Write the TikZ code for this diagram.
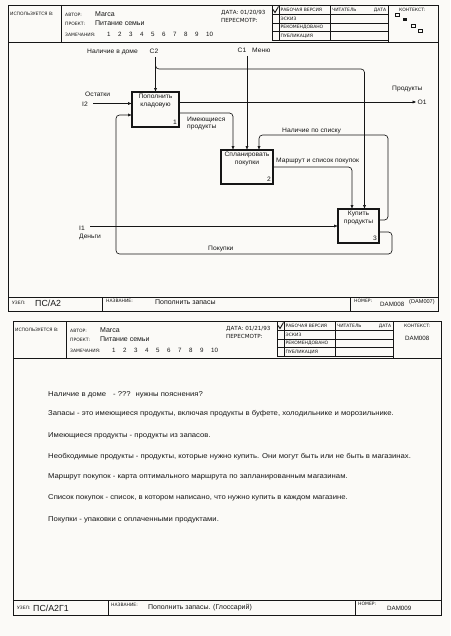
\documentclass[tikz,border=0pt]{standalone}
\usepackage{fontspec}
\setmainfont{Liberation Sans}
\newfontfamily\hdrfont{DejaVu Sans}
\newfontfamily\glfont[FakeStretch=1.1]{Liberation Sans}
\newfontfamily\labfont[FakeStretch=1.05]{Liberation Sans}
\usetikzlibrary{arrows.meta}
\definecolor{paper}{RGB}{251,250,247}
\definecolor{ink}{RGB}{22,22,22}
\tikzset{
  frame/.style={line width=0.9pt},
  thinl/.style={line width=0.6pt},
  fnbox/.style={draw, line width=1.1pt, inner sep=0, minimum width=#1},
  arr/.style={line width=0.65pt, -{Triangle[length=3.4pt,width=2.8pt]}, rounded corners=3.5pt},
  lab/.style={font=\labfont\fontsize{6.4}{7.8}\selectfont, inner sep=0},
  tiny/.style={font=\hdrfont\fontsize{4.5}{5}\selectfont, inner sep=0, anchor=west},
  dat/.style={font=\hdrfont\fontsize{5.6}{6}\selectfont, inner sep=0, anchor=west},
  val/.style={font=\fontsize{7}{8}\selectfont, inner sep=0, anchor=west},
  num/.style={font=\fontsize{6.2}{7}\selectfont, inner sep=0, anchor=west},
  big/.style={font=\fontsize{8.8}{10}\selectfont, inner sep=0, anchor=west},
  gl/.style={font=\glfont\fontsize{7}{8}\selectfont, inner sep=0, anchor=west},
}
% #1 prefix, #2 origin, #3 width, #4 date
\newcommand\idefhead[4]{%
  \begin{scope}[shift={#2}]
    \draw[frame] (0,37) -- (#3,37);
    \draw[frame] (53,0) -- (53,37);
    \node[tiny] (#1use) at (2,9) {ИСПОЛЬЗУЕТСЯ В:};
    \node[tiny] (#1aut) at (57,9.5) {АВТОР:};
    \node[val] (#1autv) at (87,9.5) {Marca};
    \node[tiny] (#1prj) at (57,18.5) {ПРОЕКТ:};
    \node[val] (#1prjv) at (87,18.5) {Питание семьи};
    \node[tiny] (#1rem) at (57,29.5) {ЗАМЕЧАНИЯ:};
    \foreach \k in {1,...,9} \node[num] (#1n\k) at ({99+11*(\k-1)},29.5) {\k};
    \node[num] (#1n10) at (198,29.5) {10};
    \node[dat] (#1date) at (213,7.5) {ДАТА: #4};
    \node[dat] (#1rev) at (213,15) {ПЕРЕСМОТР:};
    \draw[thinl] (264,0) -- (264,35) (271,0) -- (271,35) (322,0) -- (322,35);
    \draw[frame] (380,0) -- (380,37);
    \draw[thinl] (264,9.5) -- (380,9.5) (264,18) -- (380,18) (264,26.5) -- (380,26.5) (264,35) -- (380,35);
    \draw[line width=0.9pt] (265,4.5) -- (267,7.5) -- (270.5,1.5);
    \node[tiny] (#1r1) at (272.5,5) {РАБОЧАЯ ВЕРСИЯ};
    \node[tiny] (#1r2) at (272.5,13.75) {ЭСКИЗ};
    \node[tiny] (#1r3) at (272.5,22.25) {РЕКОМЕНДОВАНО};
    \node[tiny] (#1r4) at (272.5,30.75) {ПУБЛИКАЦИЯ};
    \node[tiny] (#1rd) at (324,5) {ЧИТАТЕЛЬ};
    \node[tiny, anchor=east] (#1rdd) at (378.5,5) {ДАТА};
    \node[tiny] (#1ctx) at (391,4.5) {КОНТЕКСТ:};
  \end{scope}}
\begin{document}
\begin{tikzpicture}[x=1pt,y=-1pt,color=ink]
\fill[paper] (0,0) rectangle (450,636);
\useasboundingbox (0,0) rectangle (450,636);

% ================= SHEET 1 =================
\draw[frame] (8,5) rectangle (438,311);
\idefhead{a}{(8,5)}{430}{01/20/93}
\draw[thinl] (395,13.5) rectangle (399,16.5);
\fill (403,18.5) rectangle (407,21.5);
\draw[thinl] (411,24.5) rectangle (415,27.5);
\draw[thinl] (418,29.5) rectangle (422,32.5);
% footer
\draw[frame] (8,297) -- (438,297);
\draw[frame] (102,297) -- (102,311) (350,297) -- (350,311);
\node[tiny] (fa1) at (12,303) {УЗЕЛ:};
\node[big] (fa2) at (35,303.5) {ПС/А2};
\node[tiny] (fa3) at (106,301) {НАЗВАНИЕ:};
\node[val] (fa4) at (155,302) {Пополнить запасы};
\node[tiny] (fa5) at (354,300.5) {НОМЕР:};
\node[num] (fa6) at (380,304.5) {DAM008};
\node[num, font=\fontsize{5.6}{6}\selectfont] (fa7) at (409,302) {(DAM007)};

% boxes
\node[fnbox=47pt, minimum height=35pt] (b1) at (155.5,109.5) {};
\node[fnbox=52pt, minimum height=34pt] (b2) at (247,167) {};
\node[fnbox=41pt, minimum height=34pt] (b3) at (358.5,226) {};
\node[lab, align=center, anchor=north] (b1t) at ([yshift=-2.5pt]b1.north) {Пополнить\\кладовую};
\node[lab, align=center, anchor=north] (b2t) at ([yshift=-2.5pt]b2.north) {Спланировать\\покупки};
\node[lab, align=center, anchor=north] (b3t) at ([yshift=-2.5pt]b3.north) {Купить\\продукты};
\node[lab, anchor=south east] (b1n) at ([xshift=-2.5pt,yshift=3pt]b1.south east) {1};
\node[lab, anchor=south east] (b2n) at ([xshift=-2.5pt,yshift=3pt]b2.south east) {2};
\node[lab, anchor=south east] (b3n) at ([xshift=-2.5pt,yshift=3pt]b3.south east) {3};

% boundary coordinates
\coordinate (c2) at (155.5,57);
\coordinate (c2br) at (155.5,62);
\coordinate (c1) at (247,56);
\coordinate (i2) at (93,103.5);
\coordinate (i1) at (90,226);
\coordinate (o1) at (416,102);

% connectors
\draw[arr] (c2) -- (b1.north);
\draw[arr] (c2br) |- (364.5,69) -- ([xshift=6pt]b3.north);
\draw[arr] (c1) -- (b2.north);
\draw[arr] (i2) -- (b1.west |- i2);
\draw[arr] (b1.east |- o1) -- (o1);
\draw[arr] ([yshift=-3.5pt]b1.east) -| ([xshift=-14pt]b2.north);
\draw[arr] (b2.east) -| ([xshift=-6.5pt]b3.north);
\draw[arr] ([yshift=6pt]b3.east) -| (388,135) -| ([xshift=12pt]b2.north);
\draw[arr] ([yshift=-6pt]b3.east) -| (392,254) -| (116,115) -- ([yshift=-5.5pt]b1.west);
\draw[arr] (i1) -- (b3.west);

% labels
\node[lab, anchor=east] (lnal) at (138,52) {Наличие в доме};
\node[lab] (lc2) at (154,51) {C2};
\node[lab] (lc1) at (242,50) {C1};
\node[lab, anchor=west] (lmenu) at (252,50) {Меню};
\node[lab, anchor=west] (lost) at (85,94) {Остатки};
\node[lab, anchor=west] (li2) at (82,104) {I2};
\node[lab, anchor=west] (lprod) at (392,89) {Продукты};
\node[lab, anchor=west] (lo1) at (417.5,102) {O1};
\node[lab, anchor=north west, align=left] (lim) at (187,116.5) {Имеющиеся\\продукты};
\node[lab, anchor=west] (lnps) at (282,131) {Наличие по списку};
\node[lab, anchor=west] (lmar) at (276,161) {Маршрут и список покупок};
\node[lab, anchor=west] (lpok) at (208,249) {Покупки};
\node[lab, anchor=west] (li1) at (79,228) {I1};
\node[lab, anchor=west] (lden) at (79,237) {Деньги};

% ================= SHEET 2 =================
\draw[frame] (13,321) rectangle (441,615);
\idefhead{b}{(13,321)}{428}{01/21/93}
\node[num] (bctx2) at (405,338) {DAM008};
% glossary
\node[gl] (g1) at (48,395) {Наличие в доме\hspace{7pt}- ???\hspace{2pt} нужны пояснения?};
\node[gl] (g2) at (48,414) {Запасы - это имеющиеся продукты, включая продукты в буфете, холодильнике и морозильнике.};
\node[gl] (g3) at (48,436) {Имеющиеся продукты - продукты из запасов.};
\node[gl] (g4) at (48,457) {Необходимые продукты - продукты, которые нужно купить. Они могут быть или не быть в магазинах.};
\node[gl] (g5) at (48,477) {Маршрут покупок - карта оптимального маршрута по запланированным магазинам.};
\node[gl] (g6) at (48,498) {Список покупок - список, в котором написано, что нужно купить в каждом магазине.};
\node[gl] (g7) at (48,520) {Покупки - упаковки с оплаченными продуктами.};
% footer
\draw[frame] (13,600) -- (441,600);
\draw[frame] (108,600) -- (108,615) (355,600) -- (355,615);
\node[tiny] (fb1) at (17,608) {УЗЕЛ:};
\node[big] (fb2) at (33,608.5) {ПС/А2Г1};
\node[tiny] (fb3) at (111,604.5) {НАЗВАНИЕ:};
\node[val] (fb4) at (148,608) {Пополнить запасы. (Глоссарий)};
\node[tiny] (fb5) at (358,604) {НОМЕР:};
\node[num] (fb6) at (387,608) {DAM009};
\end{tikzpicture}
\end{document}
